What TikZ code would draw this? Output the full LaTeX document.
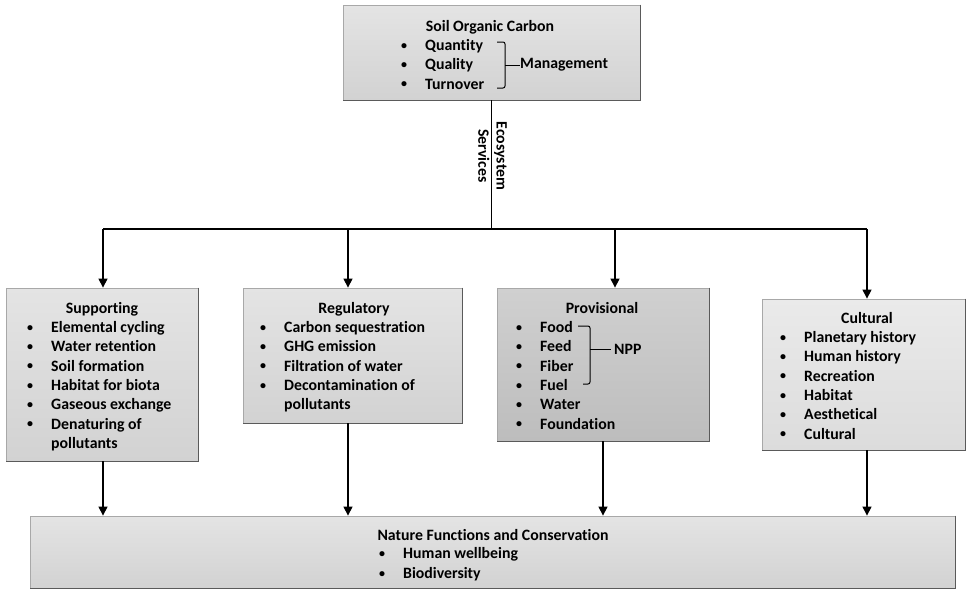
\documentclass[tikz,border=0pt]{standalone}
\usepackage{fontspec}
\newfontfamily\carl[Ligatures=NoCommon]{Carlito}
\usetikzlibrary{arrows.meta}
\definecolor{boxtop}{HTML}{E4E4E4}
\definecolor{boxbot}{HTML}{D2D2D2}
\definecolor{provtop}{HTML}{D0D0D0}
\definecolor{provbot}{HTML}{BDBDBD}
\definecolor{culttop}{HTML}{EAEAEA}
\definecolor{cultbot}{HTML}{DCDCDC}
\definecolor{edgecol}{HTML}{A8A8A8}
\definecolor{bevcol}{HTML}{5A5A5A}
\newcommand\mybul{\makebox[0pt]{\raisebox{1.2pt}{\fontsize{12}{12}\selectfont\textbullet}}\hspace{21pt}}
\newcommand\myind{\hspace{21pt}}
\newcommand\lfont{\carl\bfseries\fontsize{15.8}{19.3}\selectfont}
\tikzset{
  box/.style={rectangle, inner sep=0pt, draw=edgecol, line width=0.8pt, top color=boxtop, bottom color=boxbot},
  bev/.style={draw=bevcol, line width=1.6pt},
  ttl/.style={inner sep=0pt, anchor=base, font=\lfont},
  lst/.style={inner sep=0pt, anchor=base west, font=\lfont},
  conn/.style={draw=black, line width=1.2pt},
  arr/.style={conn, -{Triangle[width=9pt,length=9pt]}},
  brk/.style={draw=black, line width=1pt, rounded corners=2pt}
}
\begin{document}
\begin{tikzpicture}[x=1pt, y=-1pt]
\useasboundingbox (0,0) rectangle (967,592);
% boxes
\node[box, minimum width=297pt, minimum height=95pt] (soc) at (491.5,52.5) {};
\node[box, minimum width=192pt, minimum height=173pt] (sup) at (102,374.5) {};
\node[box, minimum width=219pt, minimum height=135pt] (reg) at (352.5,355.5) {};
\node[box, top color=provtop, bottom color=provbot, minimum width=212pt, minimum height=153pt] (prov) at (603,364.5) {};
\node[box, top color=culttop, bottom color=cultbot, minimum width=203pt, minimum height=151pt] (cult) at (863.5,374.5) {};
\node[box, minimum width=925pt, minimum height=72pt] (nat) at (492.5,552) {};
\foreach \b in {soc,sup,reg,prov,cult,nat}
  \draw[bev] (\b.north east) -- (\b.south east) -- (\b.south west);
% top box text
\node[ttl] (socT) at (490,31.5) {Soil Organic Carbon};
\node[lst] (socL) at (404,50.5) {\begin{tabular}[t]{@{}l@{}}\mybul Quantity\\ \mybul Quality\\ \mybul Turnover\end{tabular}};
\draw[brk] (497,42) -- (505,42) -- (505,88) -- (497,88);
\coordinate (mgA) at (505,65);
\node[lst, anchor=west] (mg) at (520,65) {Management};
\draw[brk] (mgA) -- (mg.west);
% Ecosystem services
\coordinate (j) at (491.5,229);
\coordinate (hl) at (103,229);
\coordinate (hr) at (867,229);
\coordinate (t2) at (348,229);
\coordinate (t3) at (615,229);
\draw[conn] (soc.south) -- (j);
\draw[conn] (hl) -- (hr);
\node[font=\lfont, rotate=-90, align=center, inner sep=0pt] (eco) at (492.5,156) {Ecosystem\\[-1pt]Services};
% top arrows
\draw[arr] (hl) -- (sup.north -| hl);
\draw[arr] (t2) -- (reg.north -| t2);
\draw[arr] (t3) -- (prov.north -| t3);
\draw[arr] (hr) -- (cult.north -| hr);
% Supporting
\node[ttl] (supT) at (102,313.5) {Supporting};
\node[lst] (supL) at (30,332.5) {\begin{tabular}[t]{@{}l@{}}\mybul Elemental cycling\\ \mybul Water retention\\ \mybul Soil formation\\ \mybul Habitat for biota\\ \mybul Gaseous exchange\\ \mybul Denaturing of\\ \myind pollutants\end{tabular}};
% Regulatory
\node[ttl] (regT) at (354,313.5) {Regulatory};
\node[lst] (regL) at (263,332.5) {\begin{tabular}[t]{@{}l@{}}\mybul Carbon sequestration\\ \mybul GHG emission\\ \mybul Filtration of water\\ \mybul Decontamination of\\ \myind pollutants\end{tabular}};
% Provisional
\node[ttl] (provT) at (602,313.5) {Provisional};
\node[lst] (provL) at (519,332.5) {\begin{tabular}[t]{@{}l@{}}\mybul Food\\ \mybul Feed\\ \mybul Fiber\\ \mybul Fuel\\ \mybul Water\\ \mybul Foundation\end{tabular}};
\draw[brk] (578,326) -- (590,326) -- (590,384) -- (583,384);
\coordinate (npA) at (590,349);
\node[lst, anchor=west] (npp) at (614,349) {NPP};
\draw[brk] (npA) -- ([xshift=-3pt]npp.west);
% Cultural
\node[ttl] (cultT) at (867,323.5) {Cultural};
\node[lst] (cultL) at (783,342.5) {\begin{tabular}[t]{@{}l@{}}\mybul Planetary history\\ \mybul Human history\\ \mybul Recreation\\ \mybul Habitat\\ \mybul Aesthetical\\ \mybul Cultural\end{tabular}};
% Nature
\node[ttl] (natT) at (493,540.5) {Nature Functions and Conservation};
\node[lst] (natL) at (382,558.5) {\begin{tabular}[t]{@{}l@{}}\mybul Human wellbeing\\[0.7pt] \mybul Biodiversity\end{tabular}};
% bottom arrows
\draw[arr] (sup.south -| hl) -- (nat.north -| hl);
\draw[arr] (reg.south -| t2) -- (nat.north -| t2);
\draw[arr] (prov.south) -- (nat.north -| prov.south);
\draw[arr] (cult.south -| hr) -- (nat.north -| hr);
\end{tikzpicture}
\end{document}
